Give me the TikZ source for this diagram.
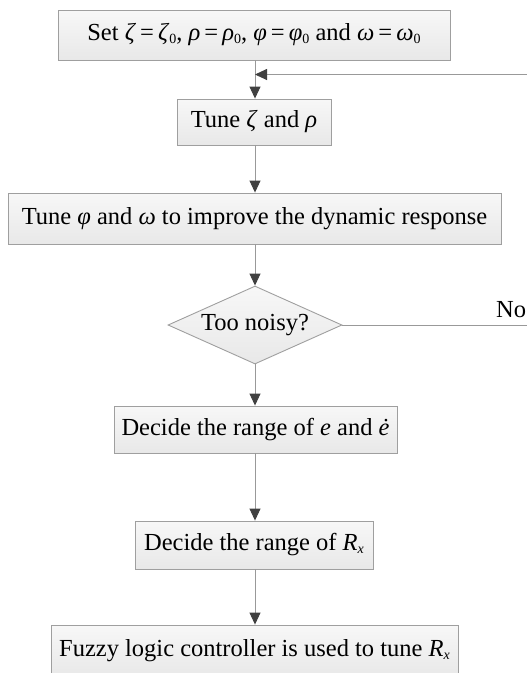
\documentclass[tikz,border=0pt]{standalone}
\usepackage{fontspec}
\setmainfont{Liberation Serif}
\usetikzlibrary{arrows.meta,shapes.geometric}
\newcommand\gk[1]{\textit{#1}\/}
\newcommand\sbs[1]{\raisebox{-0.25ex}{\fontsize{14}{14}\selectfont #1}}
\tikzset{
  stepbox/.style={draw=gray!75, line width=0.9pt, top color=white!97!black, bottom color=white!91!black,
    inner sep=0pt, font=\fontsize{24.5}{27}\selectfont},
  decis/.style={diamond, aspect=2.23, draw=gray!75, line width=0.9pt, top color=white!97!black, bottom color=white!91!black,
    inner sep=0pt, font=\fontsize{24.5}{27}\selectfont},
  flow/.style={draw=gray!80, line width=0.9pt, -{Triangle[length=12pt,width=11pt,fill=black!75,color=black!75]}},
  plain/.style={draw=gray!80, line width=0.9pt},
}
\begin{document}
\begin{tikzpicture}[x=1pt,y=-1pt]
\useasboundingbox (0,0) rectangle (527,673);
\node[stepbox, minimum width=392pt, minimum height=50pt] (s1) at (254,35)
  {Set \gk{ζ}\,=\,\gk{ζ}\sbs{0}, \gk{ρ}\,=\,\gk{ρ}\sbs{0}, \gk{φ}\,=\,\gk{φ}\sbs{0} and \gk{ω}\,=\,\gk{ω}\sbs{0}};
\node[stepbox, minimum width=154pt, minimum height=46pt] (s2) at (254,122)
  {Tune \gk{ζ} and \gk{ρ}};
\node[stepbox, minimum width=493pt, minimum height=51pt] (s3) at (254.5,218.5)
  {Tune \gk{φ} and \gk{ω} to improve the dynamic response};
\node[decis, minimum width=174pt, minimum height=78pt] (d) at (255,325) {Too noisy?};
\node[stepbox, minimum width=283pt, minimum height=47pt] (s5) at (255.5,429.5)
  {Decide the range of \gk{e} and \gk{ė}};
\node[stepbox, minimum width=238pt, minimum height=48pt] (s6) at (254,545)
  {Decide the range of \gk{R}\sbs{\gk{x}}};
\node[stepbox, minimum width=407pt, minimum height=52pt] (s7) at (254.5,651)
  {Fuzzy logic controller is used to tune \gk{R}\sbs{\gk{x}}};
\node[font=\fontsize{24.5}{27}\selectfont, anchor=base west, inner sep=0pt] (no) at (496,317) {No};
\coordinate (fbR) at (527,74.5);
\coordinate (fbJ) at (255,74.5);
\coordinate (noR) at (527,325);
\draw[flow] (s1.south -| fbJ) -- (s2.north -| fbJ);
\draw[flow] (fbR) -- (fbJ);
\draw[flow] (s2.south -| fbJ) -- (s3.north -| fbJ);
\draw[flow] (s3.south -| fbJ) -- (d.north);
\draw[plain] (d.east) -- (noR);
\draw[flow] (d.south) -- (s5.north -| fbJ);
\draw[flow] (s5.south -| fbJ) -- (s6.north -| fbJ);
\draw[flow] (s6.south -| fbJ) -- (s7.north -| fbJ);
\end{tikzpicture}
\end{document}
